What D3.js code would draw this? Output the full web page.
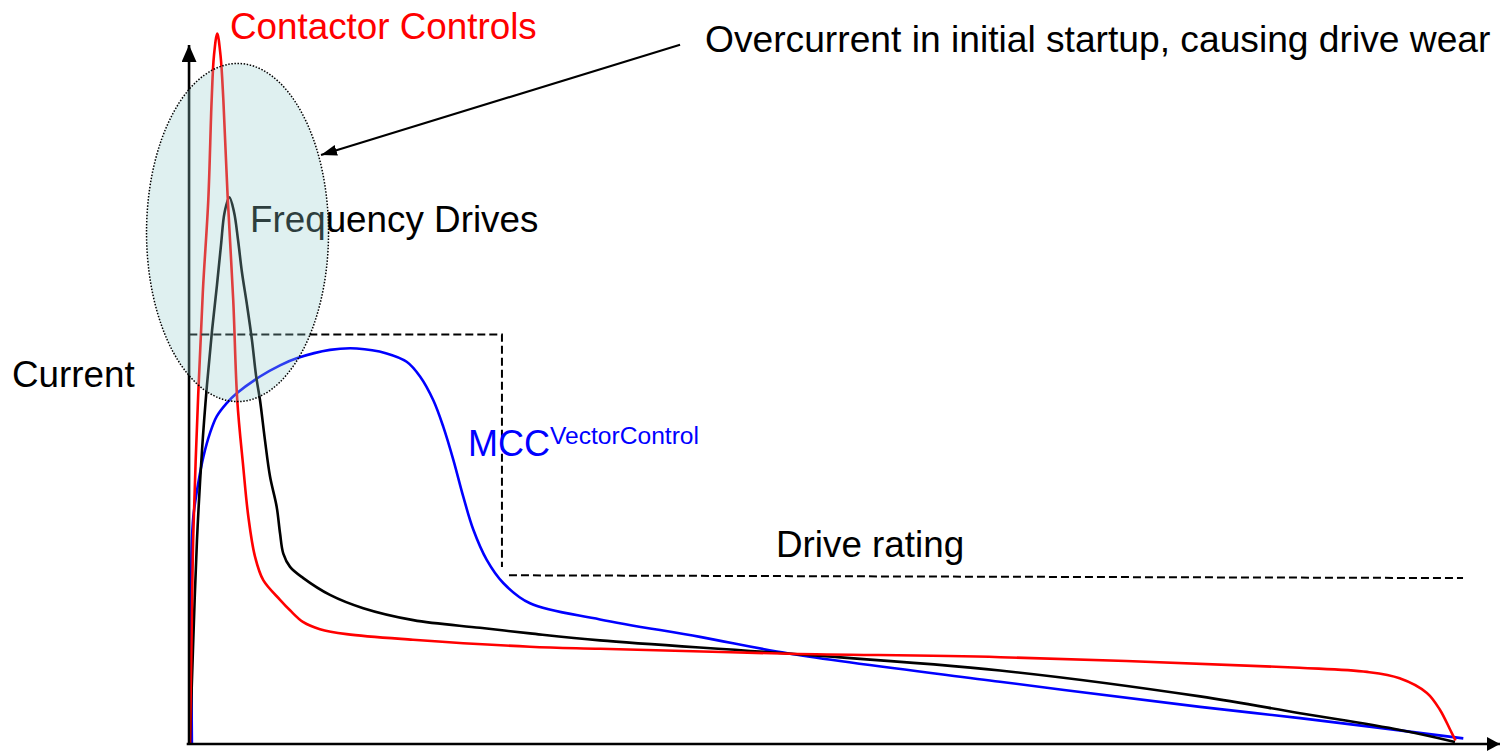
<!DOCTYPE html>
<html>
<head>
<meta charset="utf-8">
<script src="https://cdn.jsdelivr.net/npm/d3@7"></script>
<style>
  html, body { margin: 0; padding: 0; background: #fff; }
  svg { display: block; }
  text { font-family: "Liberation Sans", Arial, sans-serif; }
</style>
</head>
<body>
<svg id="chart" width="1500" height="751"></svg>
<script>
// ---- Data (time units 0..100, current units 0..100) ----
const contactorT = [0.15, 0.28, 0.41, 0.79, 1.15, 1.56, 1.82, 2.0, 2.25, 2.5, 2.72, 3.05, 3.48, 3.79, 4.25, 4.64, 5.15, 5.79, 7.08, 7.85, 8.87, 10.15, 12.2, 17.3, 26.3, 31.7, 46.3, 62.5, 85.5, 90.7, 93.2, 95.3, 96.3, 97.1, 97.5];
const contactorI = [0, 15.9, 30.1, 50.1, 64.9, 77.7, 92, 98.4, 101.5, 98.4, 92, 78.2, 63.4, 49.1, 39.6, 32.5, 26.8, 23.4, 20.6, 19.1, 17.4, 16.4, 15.7, 14.9, 13.9, 13.6, 12.9, 12.4, 10.9, 10.3, 9.4, 7.3, 4.9, 2.0, 0.5];

const driveT = [0.15, 0.38, 0.69, 1.08, 1.46, 1.85, 2.23, 2.54, 2.81, 3.18, 3.54, 3.85, 4.15, 4.54, 4.92, 5.23, 5.54, 5.92, 6.31, 6.82, 7.08, 7.33, 7.85, 8.87, 10.92, 13.48, 17.33, 22.46, 26.31, 31.69, 46.31, 62.46, 77.85, 85.54, 93.23, 97.46];
const driveI = [0, 13.4, 29.1, 42, 51.3, 59.1, 65.6, 71.3, 75.9, 78.1, 76.0, 72, 67.4, 62.7, 57.7, 52.7, 49.1, 43.4, 38.2, 33.9, 30.1, 27.2, 25.3, 23.7, 21.3, 19.4, 17.7, 16.6, 15.8, 14.8, 12.9, 10.5, 6.8, 4.4, 2.0, 0.3];

const mccT = [0.3, 0.25, 0.28, 0.41, 0.79, 1.18, 1.69, 2.21, 2.98, 3.75, 5.54, 7.08, 8.36, 10.92, 12.98, 15.28, 16.82, 17.85, 18.87, 19.64, 20.41, 21.18, 21.95, 22.98, 24.25, 26.31, 31.69, 39.38, 46.31, 62.46, 77.85, 85.54, 98.1];
const mccI = [0, 14, 27.7, 32.5, 37.3, 41, 44.4, 46.8, 48.7, 50.1, 52.5, 54.1, 55.1, 56.3, 56.5, 55.8, 54.6, 52.5, 49.1, 45.3, 40.6, 35.3, 30.6, 26.3, 23, 20.1, 17.8, 15.3, 12.9, 8.9, 5.3, 3.7, 0.8];

// Drive rating (dashed)
const ratingUpperT = [0.1, 24.15, 24.15];
const ratingUpperI = [58.5, 58.5, 25.3];
const ratingLowerT = [24.69, 98.08];
const ratingLowerI = [24.1, 23.7];

// Labels
const labelTexts = ["Contactor Controls", "Frequency Drives", "Current", "Drive rating", "Overcurrent in initial startup, causing drive wear"];

// ---- Scales ----
const svg = d3.select("#chart");
const x = d3.scaleLinear().domain([0, 100]).range([188, 1488]);
const y = d3.scaleLinear().domain([0, 100]).range([744, 44]);

const defs = svg.append("defs");
function marker(id, w, h) {
  defs.append("marker")
    .attr("id", id)
    .attr("markerUnits", "userSpaceOnUse")
    .attr("viewBox", "0 0 10 10")
    .attr("preserveAspectRatio", "none")
    .attr("refX", 10).attr("refY", 5)
    .attr("markerWidth", w).attr("markerHeight", h)
    .attr("orient", "auto")
    .append("path").attr("d", "M0,0 L10,5 L0,10 Z").attr("fill", "#000");
}
marker("axArrowY", 17, 15);
marker("axArrowX", 13, 14);
marker("annArrow", 16, 11);

const line = d3.line()
  .x(d => x(d[0])).y(d => y(d[1]))
  .curve(d3.curveCatmullRom.alpha(0.5));
const straight = d3.line().x(d => x(d[0])).y(d => y(d[1]));

const zip = (a, b) => a.map((v, i) => [v, b[i]]);

// ---- Curves ----
svg.append("path").attr("d", line(zip(mccT, mccI)))
  .attr("fill", "none").attr("stroke", "#0000ff").attr("stroke-width", 2.6);
svg.append("path").attr("d", line(zip(driveT, driveI)))
  .attr("fill", "none").attr("stroke", "#000").attr("stroke-width", 2.6);
svg.append("path").attr("d", line(zip(contactorT, contactorI)))
  .attr("fill", "none").attr("stroke", "#ff0000").attr("stroke-width", 2.6);

// ---- Drive rating dashed ----
svg.append("path").attr("d", straight(zip(ratingUpperT, ratingUpperI)))
  .attr("fill", "none").attr("stroke", "#000").attr("stroke-width", 2)
  .attr("stroke-dasharray", "8,4");
svg.append("path").attr("d", straight(zip(ratingLowerT, ratingLowerI)))
  .attr("fill", "none").attr("stroke", "#000").attr("stroke-width", 2)
  .attr("stroke-dasharray", "8,4");

// ---- Axes ----
svg.append("line")
  .attr("x1", x(0.08)).attr("y1", y(0))
  .attr("x2", x(0.08)).attr("y2", y(99.85))
  .attr("stroke", "#000").attr("stroke-width", 2.6)
  .attr("marker-end", "url(#axArrowY)");
svg.append("line")
  .attr("x1", x(-0.1)).attr("y1", y(0))
  .attr("x2", x(100.92)).attr("y2", y(0))
  .attr("stroke", "#000").attr("stroke-width", 2.6)
  .attr("marker-end", "url(#axArrowX)");

// ---- Labels ----
const fs = 36.8;
svg.append("text").attr("x", x(4.77)).attr("y", y(73.19))
  .attr("font-size", fs).attr("fill", "#000").text(labelTexts[1]);
svg.append("text").attr("x", x(3.23)).attr("y", y(100.65))
  .attr("font-size", fs).attr("fill", "#ff0000").text(labelTexts[0]);
svg.append("text").attr("x", x(-13.54)).attr("y", y(51.04))
  .attr("font-size", fs).attr("fill", "#000").text(labelTexts[2]);
svg.append("text").attr("x", x(45.23)).attr("y", y(26.67))
  .attr("font-size", fs).attr("fill", "#000").text(labelTexts[3]);
svg.append("text").attr("x", x(39.77)).attr("y", y(98.86))
  .attr("font-size", 37.2).attr("fill", "#000").text(labelTexts[4]);

const mcc = svg.append("text").attr("x", x(21.54)).attr("y", y(41.14))
  .attr("font-size", 36).attr("fill", "#0000ff");
mcc.append("tspan").text("MCC");
mcc.append("tspan").attr("font-size", 24.6).attr("dy", -12).text("VectorControl");

// ---- Highlight ellipse (semi-transparent, over curves) ----
const cx = 3.81, cy = 73.07, rxU = 7.0, ryU = 24.15;
svg.append("ellipse")
  .attr("cx", x(cx)).attr("cy", y(cy))
  .attr("rx", x(cx + rxU) - x(cx)).attr("ry", y(cy) - y(cy + ryU))
  .attr("fill", "rgb(150,205,205)").attr("fill-opacity", 0.3)
  .attr("stroke", "#000").attr("stroke-width", 1.5)
  .attr("stroke-dasharray", "1.5,1.6");

// ---- Annotation arrow ----
svg.append("line")
  .attr("x1", x(37.85)).attr("y1", y(99.9))
  .attr("x2", x(10.23)).attr("y2", y(84.15))
  .attr("stroke", "#000").attr("stroke-width", 2.2)
  .attr("marker-end", "url(#annArrow)");
</script>
</body>
</html>
